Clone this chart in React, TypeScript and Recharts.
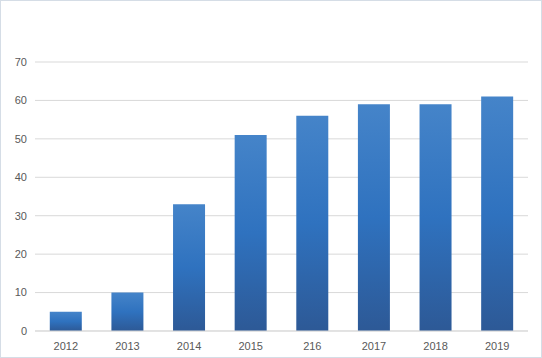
import React from "react";
import { BarChart, Bar, XAxis, YAxis, CartesianGrid } from "recharts";

const years = ["2012", "2013", "2014", "2015", "216", "2017", "2018", "2019"];
const values = [5, 10, 33, 51, 56, 59, 59, 61];
const yTicks = [0, 10, 20, 30, 40, 50, 60, 70];

const chartData = years.map((year, i) => ({ year, value: values[i] }));

const tickStyle = { fill: "#595959", fontSize: 11, fontFamily: "Liberation Sans, Arial, sans-serif" };

export default function App() {
  return (
    <div style={{ position: "fixed", left: 0, top: 0, width: 542, height: 358, background: "#fff" }}>
      <BarChart
        width={542}
        height={358}
        data={chartData}
        margin={{ top: 62, right: 14, left: 0, bottom: 0 }}
        barCategoryGap="24%"
      >
        <defs>
          <linearGradient id="barFill" x1="0" y1="0" x2="0" y2="1">
            <stop offset="0%" stopColor="#4584c9" />
            <stop offset="50%" stopColor="#2f72bf" />
            <stop offset="100%" stopColor="#2d5996" />
          </linearGradient>
        </defs>
        <CartesianGrid vertical={false} stroke="#d9d9d9" />
        <XAxis
          dataKey="year"
          height={27}
          tickLine={false}
          axisLine={{ stroke: "#d9d9d9" }}
          tick={tickStyle}
          tickMargin={5}
          interval={0}
        />
        <YAxis
          width={35}
          domain={[0, 70]}
          ticks={yTicks}
          tickLine={false}
          axisLine={false}
          tick={tickStyle}
        />
        <Bar dataKey="value" fill="url(#barFill)" isAnimationActive={false} />
      </BarChart>
      <div
        style={{
          position: "absolute",
          left: 0,
          top: 0,
          width: 542,
          height: 358,
          boxSizing: "border-box",
          border: "1px solid #d5dde6",
          pointerEvents: "none",
        }}
      />
    </div>
  );
}
